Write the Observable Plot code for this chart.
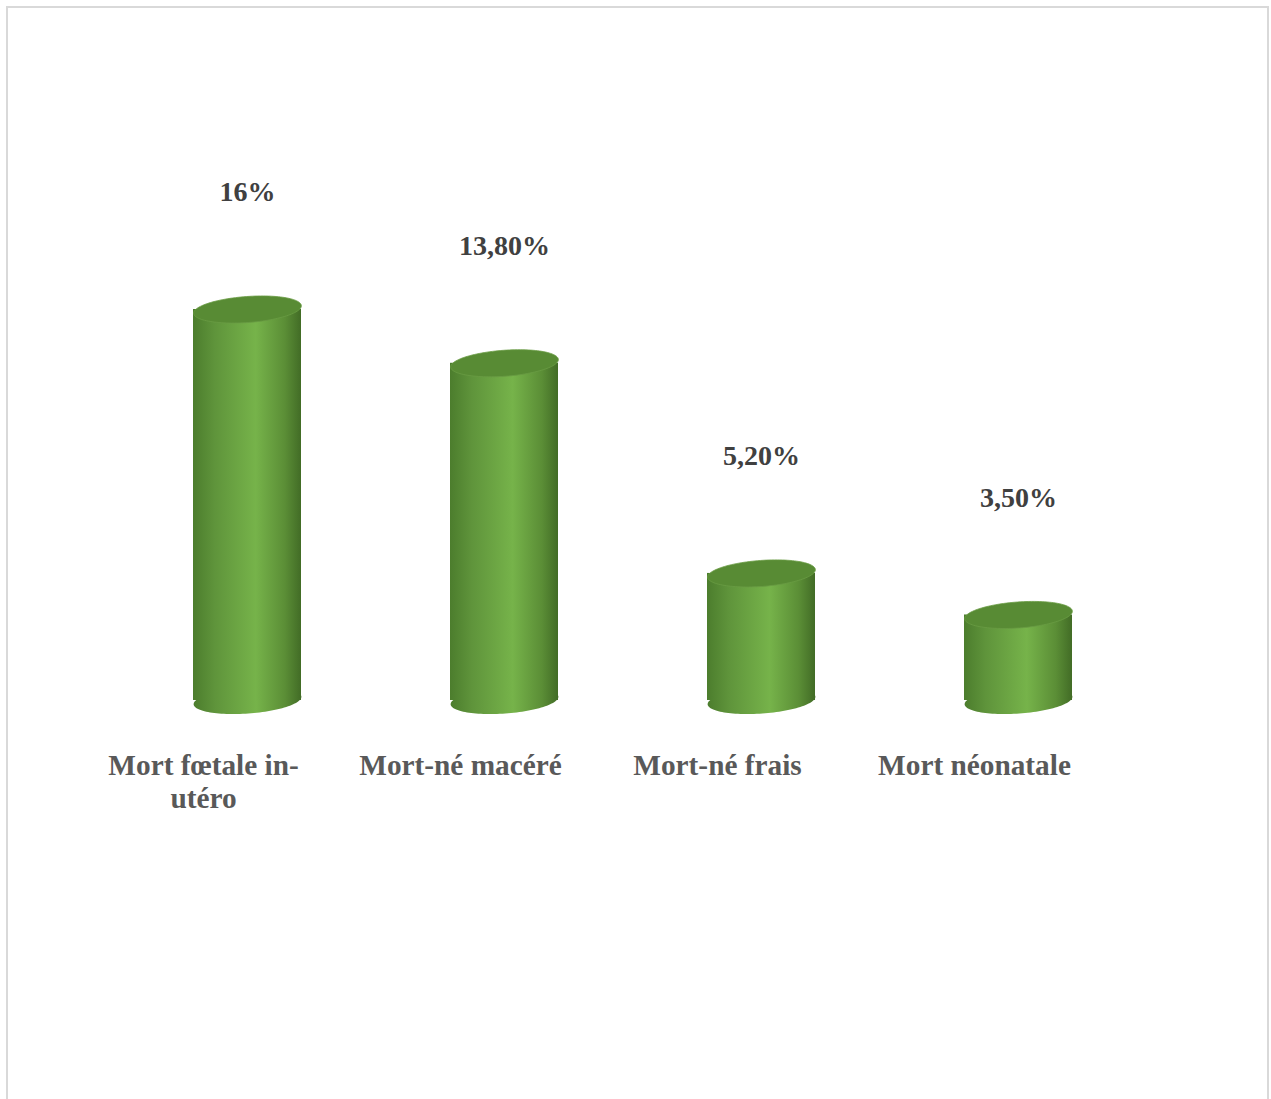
<!DOCTYPE html>
<html><head><meta charset="utf-8">
<script src="https://cdn.jsdelivr.net/npm/d3@7"></script>
<script src="https://cdn.jsdelivr.net/npm/@observablehq/plot@0.6"></script>
<style>
body{margin:0;background:#fff;}
#frame{position:absolute;left:6px;top:6px;width:1259px;height:1100px;border-left:2px solid #d9d9d9;border-top:2px solid #d9d9d9;border-right:2px solid #d9d9d9;}
#chart{position:absolute;left:0;top:0;}
</style></head><body><div id="frame"></div><div id="chart"></div>
<script>
const categories = ["Mort fœtale in-\nutéro", "Mort-né macéré", "Mort-né frais", "Mort néonatale"];
const values = [16, 13.8, 5.2, 3.5];
const valueLabels = ["16%", "13,80%", "5,20%", "3,50%"];

const data = categories.map((c, i) => ({category: c, value: values[i], label: valueLabels[i]}));

const RX = 54, RY = 13, THETA = -0.072;
const ellipse = {
  draw(context) {
    const n = 120;
    for (let i = 0; i <= n; i++) {
      const t = (i / n) * 2 * Math.PI;
      const px = RX * Math.cos(t) * Math.cos(THETA) - RY * Math.sin(t) * Math.sin(THETA);
      const py = RX * Math.cos(t) * Math.sin(THETA) + RY * Math.sin(t) * Math.cos(THETA);
      if (i === 0) context.moveTo(px, py); else context.lineTo(px, py);
    }
    context.closePath();
  }
};
// horizontal extreme points of the tilted ellipse (for the cylinder sides)
const tExt = Math.atan(-(RY / RX) * Math.tan(THETA));
const EX = RX * Math.cos(tExt) * Math.cos(THETA) - RY * Math.sin(tExt) * Math.sin(THETA);
const EY = RX * Math.cos(tExt) * Math.sin(THETA) + RY * Math.sin(tExt) * Math.cos(THETA);

const font = "'Liberation Serif','Times New Roman',serif";

const chart = Plot.plot({
  width: 1271,
  height: 1099,
  marginLeft: 42,
  marginRight: 48.5,
  marginTop: 309,
  marginBottom: 399,
  style: {background: "transparent", fontFamily: font},
  x: {type: "band", domain: categories, padding: 0.58, axis: null},
  y: {domain: [0, 16], axis: null},
  marks: [
    Plot.dot(data, {x: "category", y: () => 0, symbol: ellipse, r: 10, fill: "url(#cylGrad)", stroke: "none"}),
    Plot.barY(data, {x: "category", y: "value", fill: "url(#cylGrad)", ariaLabel: "cylinder"}),
    Plot.dot(data, {x: "category", y: "value", symbol: ellipse, r: 10, fill: "#588b34", stroke: "#6a9c44", strokeWidth: 0.8}),
    Plot.text(data, {x: "category", y: "value", text: "label", dy: -117, fontSize: 28, fontWeight: "bold", fill: "#404040", fontFamily: font}),
    Plot.text(data, {x: "category", y: () => 0, text: "category", dx: -44, dy: 51, lineAnchor: "top", lineHeight: 1.13, fontSize: 29.3, fontWeight: "bold", fill: "#595959", fontFamily: font})
  ]
});

// turn each bar rectangle into a cylinder body whose sides meet the tilted ellipses
const ns = "http://www.w3.org/2000/svg";
chart.querySelectorAll('g[aria-label="cylinder"] rect').forEach((r) => {
  const x = +r.getAttribute("x"), y = +r.getAttribute("y");
  const w = +r.getAttribute("width"), h = +r.getAttribute("height");
  const cx = x + w / 2;
  const p = document.createElementNS(ns, "path");
  const xl = cx - EX, xr = cx + EX;
  p.setAttribute("d", `M${xl},${y - EY}L${xr},${y + EY}L${xr},${y + h + EY}L${xl},${y + h - EY}Z`);
  for (const a of r.attributes) if (!["x", "y", "width", "height"].includes(a.name)) p.setAttribute(a.name, a.value);
  r.replaceWith(p);
});

const defs = document.createElementNS(ns, "defs");
defs.innerHTML = `<linearGradient id="cylGrad" x1="0" y1="0" x2="1" y2="0">
  <stop offset="0" stop-color="#4c7d2d"/>
  <stop offset="0.2" stop-color="#5f943b"/>
  <stop offset="0.58" stop-color="#76b34a"/>
  <stop offset="0.85" stop-color="#5b8e36"/>
  <stop offset="1" stop-color="#426c26"/>
</linearGradient>`;
chart.insertBefore(defs, chart.firstChild);
document.getElementById("chart").appendChild(chart);
</script>
</body></html>
